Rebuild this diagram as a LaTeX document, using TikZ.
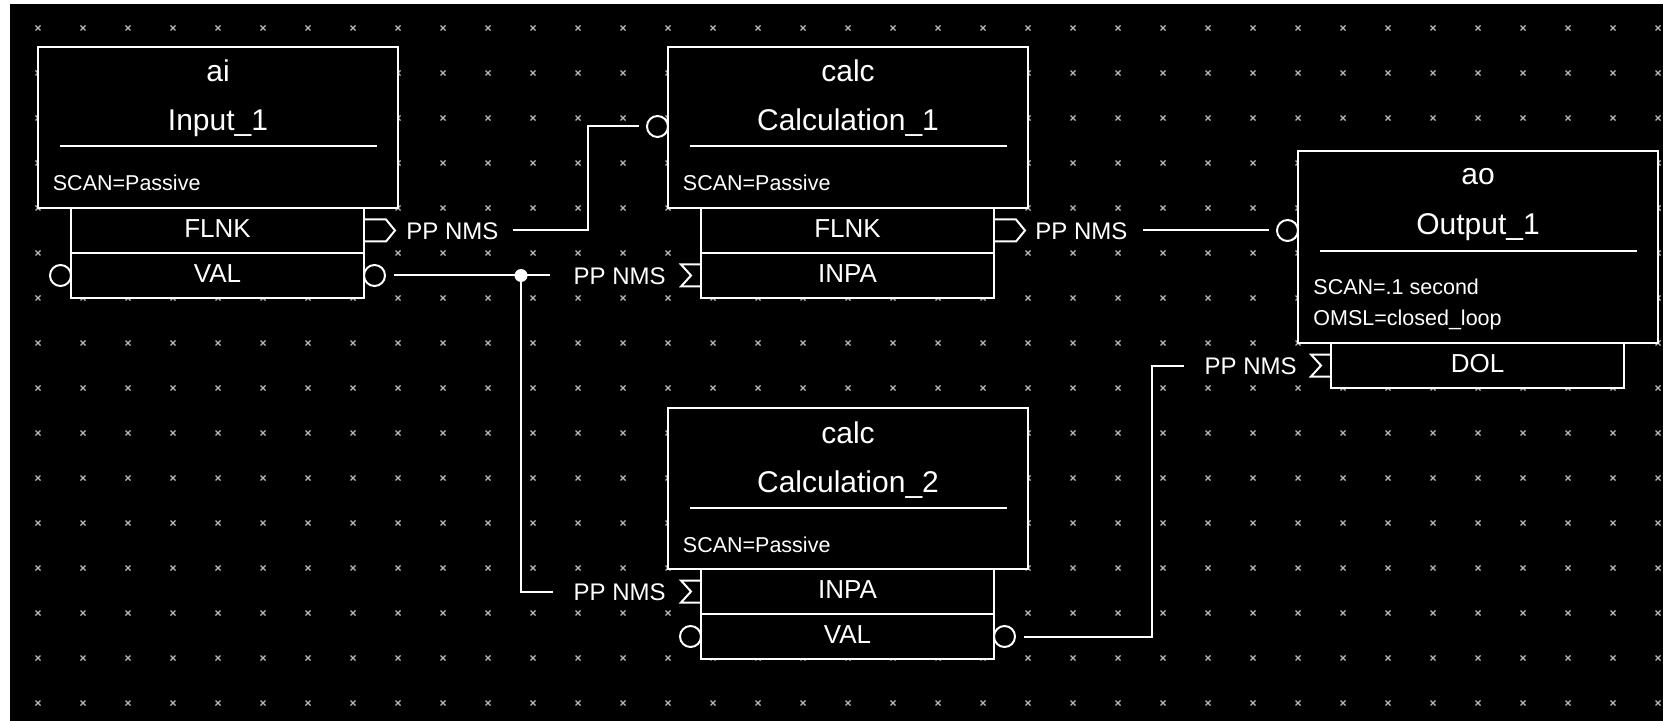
\documentclass[tikz,border=0pt]{standalone}
\usepackage{fontspec}
\setmainfont{Liberation Sans}
\definecolor{griddot}{RGB}{185,185,185}
\begin{document}
\begin{tikzpicture}[x=0.5pt,y=-0.5pt,
  ln/.style={draw=white,line width=1pt},
  gdot/.style={draw=griddot,line width=0.6pt},
  outerbox/.style={draw=white,fill=black,line width=1pt,inner sep=0pt,outer sep=0pt,minimum width=180pt,anchor=north west},
  fieldbox/.style={draw=white,fill=black,line width=1pt,inner sep=0pt,outer sep=0pt,minimum width=146.5pt,minimum height=22.5pt,anchor=north west,text=white,font=\fontsize{13}{15}\selectfont,text height=9pt,text depth=2pt},
  rectype/.style={text=white,inner sep=0pt,font=\fontsize{15}{18}\selectfont,anchor=base},
  attr/.style={text=white,inner sep=0pt,font=\fontsize{10.75}{13}\selectfont,anchor=base west},
  pp/.style={text=white,inner sep=0pt,font=\fontsize{12}{14}\selectfont,text height=9pt,text depth=0pt},
  port/.style={circle,draw=white,line width=1pt,inner sep=0pt,outer sep=0pt,minimum size=10.5pt},
  junction/.style={circle,fill=white,inner sep=0pt,minimum size=6.5pt}
]
% background
\fill[white] (0,0) rectangle (1663,721);
\fill[black] (10,4) rectangle (1663,721);
\useasboundingbox (0,0) rectangle (1663,721);
% grid
\foreach \i in {0,...,36} {
  \foreach \j in {0,...,15} {
    \draw[gdot] ({38+45*\i-2.5},{28+45*\j-2.5}) -- ++(5,5)
                ({38+45*\i-2.5},{28+45*\j+2.5}) -- ++(5,-5);
  }
}
% ---------- Input_1 ----------
\node[outerbox,minimum height=80.5pt] (in1) at (38,47) {};
\node[rectype] (in1t) at ([shift={(180,35)}]in1.north west) {ai};
\node[rectype] (in1n) at ([shift={(180,84)}]in1.north west) {Input\_1};
\draw[ln] ([shift={(21.5,99.5)}]in1.north west) -- ([shift={(-21,99.5)}]in1.north east);
\node[attr] (in1s) at ([shift={(14.5,144)}]in1.north west) {SCAN=Passive};
\node[fieldbox] (in1flnk) at ([xshift=16.5pt]in1.south west) {FLNK};
\node[fieldbox] (in1val) at (in1flnk.south west) {VAL};
\node[port,anchor=east] (in1valL) at (in1val.west) {};
\node[port,anchor=west] (in1valR) at (in1val.east) {};
\draw[ln] ([shift={(0,-11)}]in1flnk.east) -- ++(22,0) -- ++(9,11) -- ++(-9,11) -- ++(-22,0);
\node[pp,anchor=west] (ppA) at ([xshift=21pt]in1flnk.east) {PP NMS};
% ---------- Calculation_1 ----------
\node[outerbox,minimum height=80.5pt] (c1) at (668,47) {};
\node[rectype] (c1t) at ([shift={(180,35)}]c1.north west) {calc};
\node[rectype] (c1n) at ([shift={(180,84)}]c1.north west) {Calculation\_1};
\draw[ln] ([shift={(21.5,99.5)}]c1.north west) -- ([shift={(-21,99.5)}]c1.north east);
\node[attr] (c1s) at ([shift={(14.5,144)}]c1.north west) {SCAN=Passive};
\node[fieldbox] (c1flnk) at ([xshift=16.5pt]c1.south west) {FLNK};
\node[fieldbox] (c1inpa) at (c1flnk.south west) {INPA};
\node[port,anchor=east] (c1in) at ([shift={(0,79.5)}]c1.north west) {};
\draw[ln] ([shift={(0,-11)}]c1flnk.east) -- ++(22,0) -- ++(9,11) -- ++(-9,11) -- ++(-22,0);
\node[pp,anchor=west] (ppC) at ([xshift=20.5pt]c1flnk.east) {PP NMS};
\draw[ln] ([shift={(0,-11)}]c1inpa.west) -- ++(-20,0) -- ++(10,11) -- ++(-10,11) -- ++(20,0);
\node[pp,anchor=east] (ppB) at ([xshift=-17.5pt]c1inpa.west) {PP NMS};
% ---------- Calculation_2 ----------
\node[outerbox,minimum height=80.5pt] (c2) at (668,408) {};
\node[rectype] (c2t) at ([shift={(180,35)}]c2.north west) {calc};
\node[rectype] (c2n) at ([shift={(180,84)}]c2.north west) {Calculation\_2};
\draw[ln] ([shift={(21.5,99.5)}]c2.north west) -- ([shift={(-21,99.5)}]c2.north east);
\node[attr] (c2s) at ([shift={(14.5,144)}]c2.north west) {SCAN=Passive};
\node[fieldbox] (c2inpa) at ([xshift=16.5pt]c2.south west) {INPA};
\node[fieldbox] (c2val) at (c2inpa.south west) {VAL};
\node[port,anchor=east] (c2valL) at (c2val.west) {};
\node[port,anchor=west] (c2valR) at (c2val.east) {};
\draw[ln] ([shift={(0,-11)}]c2inpa.west) -- ++(-20,0) -- ++(10,11) -- ++(-10,11) -- ++(20,0);
\node[pp,anchor=east] (ppD) at ([xshift=-17.5pt]c2inpa.west) {PP NMS};
% ---------- Output_1 ----------
\node[outerbox,minimum height=96pt] (ao) at (1298,151) {};
\node[rectype] (aot) at ([shift={(180,34)}]ao.north west) {ao};
\node[rectype] (aon) at ([shift={(180,84)}]ao.north west) {Output\_1};
\draw[ln] ([shift={(22,100)}]ao.north west) -- ([shift={(-21,100)}]ao.north east);
\node[attr] (aos) at ([shift={(15,144)}]ao.north west) {SCAN=.1 second};
\node[attr] (aoo) at ([shift={(15,175)}]ao.north west) {OMSL=closed\_loop};
\node[fieldbox] (aodol) at ([xshift=16.5pt]ao.south west) {DOL};
\node[port,anchor=east] (aoin) at ([shift={(0,79.5)}]ao.north west) {};
\draw[ln] ([shift={(0,-11)}]aodol.west) -- ++(-20,0) -- ++(10,11) -- ++(-10,11) -- ++(20,0);
\node[pp,anchor=east] (ppE) at ([xshift=-17pt]aodol.west) {PP NMS};
% ---------- connectors ----------
\coordinate (bendA) at (588,126.5);
\coordinate (bendB) at (1152,365.5);
\node[junction] (jn) at (521,275.5) {};
\draw[ln] ([xshift=7pt]ppA.east) -| (bendA) -- ([xshift=-4pt]c1in.west);
\draw[ln] ([xshift=4.5pt]in1valR.east) -- ([xshift=-11.5pt]ppB.west);
\draw[ln] (jn.center) |- ([xshift=-10pt]ppD.west);
\draw[ln] ([xshift=7.5pt]ppC.east) -- ([xshift=-4pt]aoin.west);
\draw[ln] ([xshift=4.5pt]c2valR.east) -| (bendB) -- ([xshift=-10pt]ppE.west);
\end{tikzpicture}
\end{document}
